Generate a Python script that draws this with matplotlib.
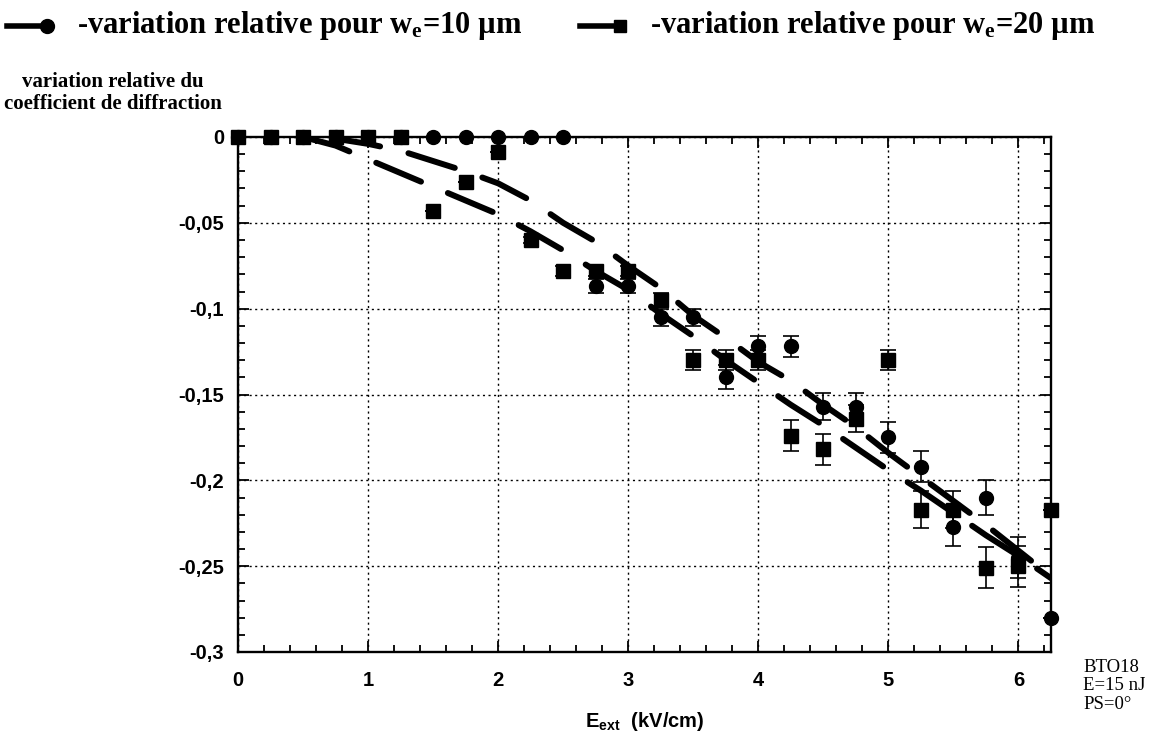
import matplotlib
matplotlib.use("Agg")
import matplotlib.pyplot as plt
from matplotlib.lines import Line2D
from matplotlib.ticker import MultipleLocator

plt.rcParams['mathtext.fontset'] = 'custom'
plt.rcParams['mathtext.bf'] = 'Liberation Serif:bold'
plt.rcParams['mathtext.sf'] = 'Liberation Sans:bold'
plt.rcParams['lines.scale_dashes'] = False

# ---- data ----
E_ext = [0, 0.25, 0.5, 0.75, 1.0, 1.25, 1.5, 1.75, 2.0, 2.25, 2.5, 2.75, 3.0,
         3.25, 3.5, 3.75, 4.0, 4.25, 4.5, 4.75, 5.0, 5.25, 5.5, 5.75, 6.0, 6.25]

var_10um = [0, 0, 0, 0, 0, 0, 0, 0, 0, 0, 0, -0.087, -0.087,
            -0.105, -0.105, -0.140, -0.122, -0.122, -0.157, -0.157, -0.175,
            -0.192, -0.227, -0.210, -0.245, -0.280]
err_10um = [0, 0, 0, 0, 0, 0, 0, 0, 0, 0, 0, 0.004, 0.004,
            0.005, 0.005, 0.007, 0.006, 0.006, 0.008, 0.008, 0.009,
            0.009, 0.011, 0.010, 0.012, 0.0]

var_20um = [0, 0, 0, 0, 0, 0, -0.043, -0.026, -0.009, -0.060, -0.078, -0.078, -0.078,
            -0.095, -0.130, -0.130, -0.130, -0.174, -0.182, -0.164, -0.130,
            -0.217, -0.217, -0.251, -0.250, -0.217]
err_20um = [0, 0, 0, 0, 0, 0, 0, 0, 0, 0.002, 0.003, 0.003, 0.003,
            0.004, 0.006, 0.006, 0.006, 0.009, 0.009, 0.008, 0.006,
            0.011, 0.011, 0.012, 0.012, 0.0]

fit_x = [0.5, 0.75, 1.0, 1.25, 1.5, 1.75, 2.0, 2.25, 2.5, 2.75, 3.0, 3.25, 3.5,
         3.75, 4.0, 4.25, 4.5, 4.75, 5.0, 5.25, 5.5, 5.75, 6.0, 6.25]
fit_lower = [0, -0.005, -0.013, -0.021, -0.029, -0.037, -0.045, -0.055, -0.066,
             -0.078, -0.089, -0.103, -0.116, -0.130, -0.143, -0.156, -0.168,
             -0.181, -0.194, -0.206, -0.219, -0.232, -0.244, -0.257]
fit_upper = [0, -0.001, -0.004, -0.008, -0.014, -0.020, -0.027, -0.037, -0.050,
             -0.061, -0.075, -0.088, -0.104, -0.117, -0.131, -0.142, -0.156,
             -0.169, -0.184, -0.198, -0.212, -0.226, -0.241, -0.256]

x_ticks = [0, 1, 2, 3, 4, 5, 6]
y_ticks = [0, -0.05, -0.1, -0.15, -0.2, -0.25, -0.3]
y_tick_labels = ['0', '-0,05', '-0,1', '-0,15', '-0,2', '-0,25', '-0,3']

# ---- figure ----
W, H = 1156, 740
fig = plt.figure(figsize=(W / 100, H / 100), dpi=100)
ax = fig.add_axes([238 / W, 1 - 652 / H, (1051 - 238) / W, (652 - 137) / H])

# fit curves (thick long dashes)
for fy, off in ((fit_lower, 0), (fit_upper, 35)):
    ax.plot(fit_x, fy, color='black', lw=4.3, linestyle=(off, (35, 21)),
            dash_capstyle='round', zorder=3)

# data
for yv, ye, mk, ms in ((var_10um, err_10um, 'o', 10), (var_20um, err_20um, 's', 9.5)):
    cont = ax.errorbar(E_ext, yv, yerr=ye, fmt=mk, color='black', ms=ms,
                       capsize=5.5, elinewidth=1.2, capthick=1.2, zorder=4)
    cont[0].set_clip_on(False)

ax.set_xlim(0, 6.25)
ax.set_ylim(-0.3, 0)
ax.set_xticks(x_ticks)
ax.set_yticks(y_ticks)
ax.set_yticklabels(y_tick_labels)
ax.xaxis.set_minor_locator(MultipleLocator(0.2))
ax.yaxis.set_minor_locator(MultipleLocator(0.01))
ax.tick_params(which='both', direction='in', top=True, right=True, width=1.3)
ax.tick_params(which='major', length=8)
ax.tick_params(axis='y', which='major', pad=10)
ax.tick_params(axis='x', which='major', pad=14)
ax.tick_params(which='minor', length=5)
for lab in ax.get_xticklabels() + ax.get_yticklabels():
    lab.set_fontfamily('Liberation Sans')
    lab.set_fontweight('bold')
    lab.set_fontsize(14.5)
for s in ax.spines.values():
    s.set_linewidth(1.7)
ax.grid(True, which='major', color='black', linestyle=(0, (1.5, 2.5)), lw=1.0)

ax.set_xlabel(r'$\mathsf{E_{ext}}$  (kV/cm)', fontfamily='Liberation Sans',
              fontweight='bold', fontsize=14.5, labelpad=14)

# y label (top left)
fig.text(113 / W, 1 - 93 / H, 'variation relative du\ncoefficient de diffraction',
         ha='center', va='center', fontfamily='Liberation Serif',
         fontweight='bold', fontsize=15, linespacing=1.1)

# legend (top)
ly = 1 - 26 / H
fig.add_artist(Line2D([7 / W, 45 / W], [ly, ly], transform=fig.transFigure,
                      color='black', lw=4))
fig.add_artist(Line2D([47 / W], [ly], transform=fig.transFigure, marker='o',
                      ms=10, color='black'))
fig.text(77 / W, ly, r'-variation relative pour $\mathbf{w_e}$=10 µm',
         ha='left', va='center', fontfamily='Liberation Serif',
         fontweight='bold', fontsize=22)
fig.add_artist(Line2D([580 / W, 615 / W], [ly, ly], transform=fig.transFigure,
                      color='black', lw=4))
fig.add_artist(Line2D([620 / W], [ly], transform=fig.transFigure, marker='s',
                      ms=9, color='black'))
fig.text(650 / W, ly, r'-variation relative pour $\mathbf{w_e}$=20 µm',
         ha='left', va='center', fontfamily='Liberation Serif',
         fontweight='bold', fontsize=22)

# annotation
fig.text(1083 / W, 1 - 659 / H, 'BTO18\nE=15 nJ\nPS=0°', ha='left', va='top',
         fontfamily='Liberation Serif', fontsize=13.5, linespacing=1.1)

fig.savefig('out.png', dpi=100, facecolor='white')
